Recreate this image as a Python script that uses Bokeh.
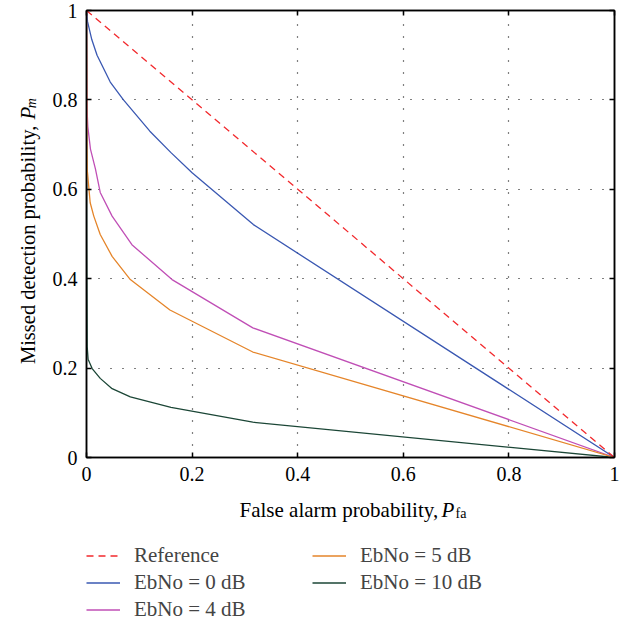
import math
from bokeh.plotting import figure
from bokeh.layouts import row, column
from bokeh.models import (Range1d, FixedTicker, LinearAxis, Legend, LegendItem, Label)
from bokeh.embed import file_html
from bokeh.resources import INLINE

# ---- data ----
ref_pfa = [0.0, 1.0]
ref_pm = [1.0, 0.0]

eb0_pfa = [0.0, 0.002, 0.005, 0.01, 0.02, 0.045, 0.07, 0.12, 0.16, 0.2, 0.316, 1.0]
eb0_pm = [1.0, 0.975, 0.96, 0.935, 0.90, 0.84, 0.80, 0.73, 0.682, 0.637, 0.521, 0.0]

eb4_pfa = [0.0, 0.0005, 0.001, 0.0025, 0.0075, 0.017, 0.026, 0.0485, 0.086, 0.162, 0.315, 1.0]
eb4_pm = [1.0, 0.85, 0.78, 0.74, 0.69, 0.645, 0.593, 0.54, 0.476, 0.398, 0.29, 0.0]

eb5_pfa = [0.0, 0.0008, 0.0013, 0.007, 0.0138, 0.026, 0.0485, 0.083, 0.158, 0.315, 1.0]
eb5_pm = [1.0, 0.70, 0.645, 0.57, 0.54, 0.499, 0.45, 0.398, 0.33, 0.236, 0.0]

eb10_pfa = [0.0, 0.0003, 0.0013, 0.003, 0.0107, 0.026, 0.0485, 0.083, 0.16, 0.315, 1.0]
eb10_pm = [1.0, 0.5, 0.248, 0.22, 0.199, 0.177, 0.154, 0.1355, 0.112, 0.079, 0.0]

ticks = [0.0, 0.2, 0.4, 0.6, 0.8, 1.0]
tick_labels = ["0", "0.2", "0.4", "0.6", "0.8", "1"]

series_labels = ["Reference", "EbNo = 0 dB", "EbNo = 4 dB", "EbNo = 5 dB", "EbNo = 10 dB"]
series_colors = ["#f2292d", "#3a58b2", "#c04fb6", "#e5852a", "#1b4636"]

FONT = "Liberation Serif"
FS = "20px"
LFS = "21px"
LW = 1.3

# ---------------- main plot ----------------
p = figure(width=573, height=492, output_backend="svg", toolbar_location=None,
           x_range=Range1d(0, 1), y_range=Range1d(0, 1),
           min_border_left=40, min_border_right=5, min_border_top=10, min_border_bottom=35)
p.outline_line_color = "black"
p.outline_line_width = 1.5

def style_axis(ax, show_labels=True):
    ax.ticker = FixedTicker(ticks=ticks)
    ax.major_label_overrides = {t: l for t, l in zip(ticks, tick_labels)}
    ax.axis_line_color = "black"
    ax.axis_line_width = 1.5
    ax.major_tick_in = 5
    ax.major_tick_out = 0
    ax.major_tick_line_width = 1.5
    ax.major_tick_line_color = "black"
    ax.minor_tick_line_color = None
    ax.major_label_text_font = FONT
    if show_labels:
        ax.major_label_text_font_size = FS
        ax.major_label_text_color = "black"
        ax.major_label_standoff = 9
    else:
        ax.major_label_text_font_size = "1px"
        ax.major_label_text_color = None
        ax.major_label_standoff = 0

for ax in p.xaxis:
    style_axis(ax)
for ax in p.yaxis:
    style_axis(ax)

top_ax = LinearAxis()
right_ax = LinearAxis()
style_axis(top_ax, False)
style_axis(right_ax, False)
p.add_layout(top_ax, "above")
p.add_layout(right_ax, "right")

for g in (p.xgrid[0], p.ygrid[0]):
    g.ticker = FixedTicker(ticks=ticks)
    g.grid_line_color = "black"
    g.grid_line_dash = "1 11"
    g.grid_line_width = 1.2

p.line(eb10_pfa, eb10_pm, line_color=series_colors[4], line_width=LW)
p.line(eb4_pfa, eb4_pm, line_color=series_colors[2], line_width=LW)
p.line(eb0_pfa, eb0_pm, line_color=series_colors[1], line_width=LW)
p.line(eb5_pfa, eb5_pm, line_color=series_colors[3], line_width=LW)
p.line(ref_pfa, ref_pm, line_color=series_colors[0], line_width=LW, line_dash="7 5")

# ---------------- helper for the title / legend strips ----------------
def blank_fig(w, h, xr, yr):
    f = figure(width=w, height=h, output_backend="svg", toolbar_location=None,
               x_range=xr, y_range=yr, x_axis_location=None, y_axis_location=None,
               min_border=0, min_border_left=0, min_border_right=0,
               min_border_top=0, min_border_bottom=0)
    f.outline_line_color = None
    f.grid.visible = False
    return f

# left strip: y-axis title (rotated), centred pieces
left = blank_fig(46, 492, Range1d(0, 46), Range1d(492, 0))
lk = dict(text_font=FONT, text_color="black", angle=math.pi / 2,
          text_align="center", text_baseline="middle")
left.add_layout(Label(x=27, y=258, text="Missed detection probability,",
                      text_font_size="20.5px", **lk))
left.add_layout(Label(x=27, y=113, text="P", text_font_style="italic",
                      text_font_size=LFS, **lk))
left.add_layout(Label(x=31, y=102, text="m", text_font_style="italic",
                      text_font_size="14px", **lk))

# bottom strip: x-axis title and legend
bottom = blank_fig(619, 130, Range1d(0, 619), Range1d(622, 492))
bk = dict(text_font=FONT, text_color="black", text_baseline="alphabetic")
bottom.add_layout(Label(x=239, y=509, text="False alarm probability,", text_align="left",
                        text_font_size=LFS, **bk))
bottom.add_layout(Label(x=441, y=509, text="P", text_align="left", text_font_style="italic",
                        text_font_size=LFS, **bk))
bottom.add_layout(Label(x=455, y=513, text="fa", text_align="left",
                        text_font_size="14px", **bk))

# legend samples: one-point NaN lines that only carry each series' style
nan = float("nan")
sample = []
for i, c in enumerate(series_colors):
    kw = dict(line_dash="7 5") if i == 0 else {}
    sample.append(bottom.line(x=[nan], y=[nan], line_color=c, line_width=LW, **kw))

def make_legend(idx, loc):
    items = [LegendItem(label=series_labels[i], renderers=[sample[i]]) for i in idx]
    return Legend(items=items, location=loc, orientation="vertical",
                  label_text_font=FONT, label_text_font_size=LFS,
                  glyph_width=34, glyph_height=23, label_height=23,
                  label_standoff=14, spacing=2, padding=0, margin=0,
                  border_line_color=None, background_fill_alpha=0)

bottom.add_layout(make_legend([0, 1, 2], (86, 0.5)))
bottom.add_layout(make_legend([3, 4], (312, 27.5)))

layout = column(row(left, p), bottom)
open("out.html", "w").write(file_html(layout, INLINE))
